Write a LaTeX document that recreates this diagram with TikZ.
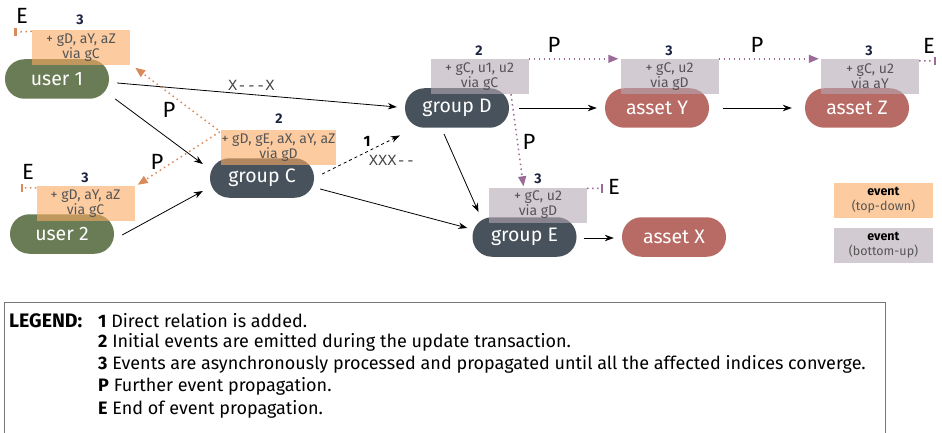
\documentclass[tikz,border=0pt]{standalone}
\usepackage{fontspec}
\setmainfont{Fira Sans}
\setmonofont{Liberation Mono}
\usetikzlibrary{arrows.meta}
\definecolor{cgreen}{HTML}{6A7C55}
\definecolor{cslate}{HTML}{47525C}
\definecolor{cred}{HTML}{B86A64}
\definecolor{ctd}{RGB}{250,170,97}
\definecolor{cbu}{RGB}{182,168,180}
\definecolor{ctdline}{HTML}{D98A5A}
\definecolor{cbuline}{HTML}{9A6A98}
\definecolor{cnavy}{HTML}{1C2340}
\definecolor{cboxtxt}{HTML}{555555}
\definecolor{cmono}{HTML}{444444}
\definecolor{clegend}{HTML}{777777}
\tikzset{
  pill/.style={rectangle, rounded corners=19.5pt, minimum width=104pt, minimum height=39.5pt, inner sep=0pt, text=white, font=\fontsize{19.5}{20}\selectfont},
  usern/.style={pill, fill=cgreen},
  groupn/.style={pill, fill=cslate},
  assetn/.style={pill, fill=cred},
  evbox/.style={rectangle, fill opacity=0.6, text opacity=1, text=cboxtxt, inner sep=0pt, minimum width=98pt, minimum height=35pt, align=center, font=\fontsize{14}{13.5}\selectfont},
  evtd/.style={evbox, fill=ctd},
  evbu/.style={evbox, fill=cbu},
  numl/.style={font=\bfseries\fontsize{14}{14}\selectfont, text=cnavy, inner sep=0pt},
  pel/.style={font=\fontsize{22}{22}\selectfont, inner sep=0pt},
  arr/.style={-{Stealth[length=9pt,width=6.5pt]}, line width=0.8pt},
  monol/.style={font=\ttfamily\fontsize{15.5}{15.5}\selectfont, text=cmono, inner sep=0pt},
  tdl/.style={draw=ctdline, line width=1.5pt, dash pattern=on 1.5pt off 3.5pt},
  tda/.style={tdl, -{Triangle[length=10pt,width=8pt]}},
  bul/.style={draw=cbuline, line width=1.5pt, dash pattern=on 1.5pt off 3.5pt},
  bua/.style={bul, -{Triangle[length=10pt,width=8pt]}},
  tdtick/.style={draw=ctdline, line width=2.2pt},
  butick/.style={draw=cbuline, line width=2.2pt},
  legt/.style={font=\fontsize{18}{18}\selectfont, inner sep=0pt, anchor=west},
  keyt/.style={align=center, inner sep=0pt, minimum width=99pt, minimum height=35pt, font=\fontsize{12.5}{15}\selectfont},
}
\begin{document}
\begin{tikzpicture}[x=1pt,y=-1pt]
\useasboundingbox (0,0) rectangle (942,433);

% main nodes
\node[usern] (u1) at (57,79) {user 1};
\node[usern] (u2) at (62,234) {user 2};
\node[groupn] (gC) at (262,178) {group C};
\node[groupn] (gD) at (457,108) {group D};
\node[groupn] (gE) at (524.5,237) {group E};
\node[assetn] (aY) at (657,108) {asset Y};
\node[assetn] (aZ) at (857,108) {asset Z};
\node[assetn] (aX) at (674,237) {asset X};

% event boxes
\node[evtd] (eu1) at (81,48) {+ gD, aY, aZ\\via gC};
\node[evtd] (eu2) at (85.5,203.5) {+ gD, aY, aZ\\via gC};
\node[evtd, minimum width=115pt] (egC) at (278.5,147.5) {+ gD, gE, aX, aY, aZ\\via gD};
\node[evbu] (egD) at (479.5,76.5) {+ gC, u1, u2\\via gC};
\node[evbu] (eaY) at (669.5,76.5) {+ gC, u2\\via gD};
\node[evbu] (eaZ) at (870,76.5) {+ gC, u2\\via aY};
\node[evbu] (egE) at (538,205) {+ gC, u2\\via gD};

% step numbers
\node[numl] (n1) at (80,20) {3};
\node[numl] (n2) at (85,178) {3};
\node[numl] (n3) at (279,119) {2};
\node[numl] (n4) at (479,51) {2};
\node[numl] (n5) at (669,51) {3};
\node[numl] (n6) at (869,51) {3};
\node[numl] (n7) at (538,179) {3};

% black connectors
\draw[arr] ([shift={(8,4)}]u1.east) -- ([shift={(-8,-1)}]gD.west)
  node[pos=0.48, monol, above=4pt] (x1) {X---X};
\draw[arr] ([shift={(6,0)}]u1.south east) -- ([shift={(-7,6)}]gC.north west);
\draw[arr] ([shift={(8,1)}]u2.east) -- ([shift={(-7,13)}]gC.west);
\draw[arr, dashed] ([shift={(8,-4)}]gC.east) -- ([shift={(-5,7.5)}]gD.south west);
\node[font=\bfseries\fontsize{15}{15}\selectfont, inner sep=0pt] (one) at (367,141) {1};
\node[monol] (x2) at (392,160) {XXX--};
\draw[arr] ([shift={(6,11)}]gC.east) -- ([shift={(-5,-9)}]gE.west);
\draw[arr] ([shift={(-13,6)}]gD.south) -- ([shift={(-46,-5)}]gE.north);
\draw[arr] ([shift={(10,0)}]gD.east) -- ([shift={(-8,0)}]aY.west);
\draw[arr] ([shift={(14,0)}]aY.east) -- ([shift={(-13,0)}]aZ.west);
\draw[arr] ([shift={(7,1)}]gE.east) -- ([shift={(-8,1)}]aX.west);

% top-down propagation
\draw[tda] ([shift={(-3,0)}]egC.north west) -- ([shift={(5,2)}]eu1.south east);
\draw[tda] ([shift={(-1,2)}]egC.north west) -- ([shift={(3,-1)}]eu2.north east);
\node[pel] (p1) at (169,110) {P};
\node[pel] (p2) at (157,162) {P};
\coordinate (t1) at (15.5,32);
\draw[tdl] ([shift={(0,1)}]eu1.north west) -- (t1);
\draw[tdtick] ([yshift=-4]t1) -- ([yshift=4]t1);
\node[pel] (e1) at (22,16) {E};
\coordinate (t2) at (22,188);
\draw[tdl] ([shift={(0,2)}]eu2.north west) -- (t2);
\draw[tdtick] ([yshift=-4]t2) -- ([yshift=4]t2);
\node[pel] (e2) at (28,172) {E};

% bottom-up propagation
\draw[bua] (egD.north east) -- ([shift={(-2,0)}]eaY.north west);
\draw[bua] (eaY.north east) -- ([shift={(-2,0)}]eaZ.north west);
\node[pel] (p3) at (554,45) {P};
\node[pel] (p4) at (757,45) {P};
\coordinate (t3) at (935,61);
\draw[bul] ([shift={(0,2)}]eaZ.north east) -- (t3);
\draw[butick] ([yshift=-4]t3) -- ([yshift=4]t3);
\node[pel] (e3) at (929,46) {E};
\draw[bua] ([shift={(31.5,0)}]egD.south) -- ([shift={(-14.5,-1)}]egE.north);
\node[pel] (p5) at (529,142) {P};
\coordinate (t4) at (602,188.5);
\draw[bul] ([shift={(0,1)}]egE.north east) -- (t4);
\draw[butick] ([yshift=-4.5]t4) -- ([yshift=4.5]t4);
\node[pel] (e4) at (614,187) {E};

% key
\node[keyt, fill=ctd, fill opacity=0.6, text opacity=1] (k1) at (883.5,200.5) {\textbf{event}\\\textcolor{cboxtxt}{(top-down)}};
\node[keyt, fill=cbu, fill opacity=0.6, text opacity=1] (k2) at (883.5,245.5) {\textbf{event}\\\textcolor{cboxtxt}{(bottom-up)}};

% legend
\node[draw=clegend, line width=0.8pt, minimum width=881pt, minimum height=130.5pt, inner sep=0pt, anchor=north west] (leg) at (3.5,302) {};
\node[legt, font=\bfseries\fontsize{19.5}{19.5}\selectfont] (lg) at (9,320.5) {LEGEND:};
\node[legt] (l1) at (98,320.5) {\textbf{1} Direct relation is added.};
\node[legt] (l2) at (98,342.6) {\textbf{2} Initial events are emitted during the update transaction.};
\node[legt] (l3) at (98,364.7) {\textbf{3} Events are asynchronously processed and propagated until all the affected indices converge.};
\node[legt] (l4) at (98,386.8) {\textbf{P} Further event propagation.};
\node[legt] (l5) at (98,408.9) {\textbf{E} End of event propagation.};
\end{tikzpicture}
\end{document}
